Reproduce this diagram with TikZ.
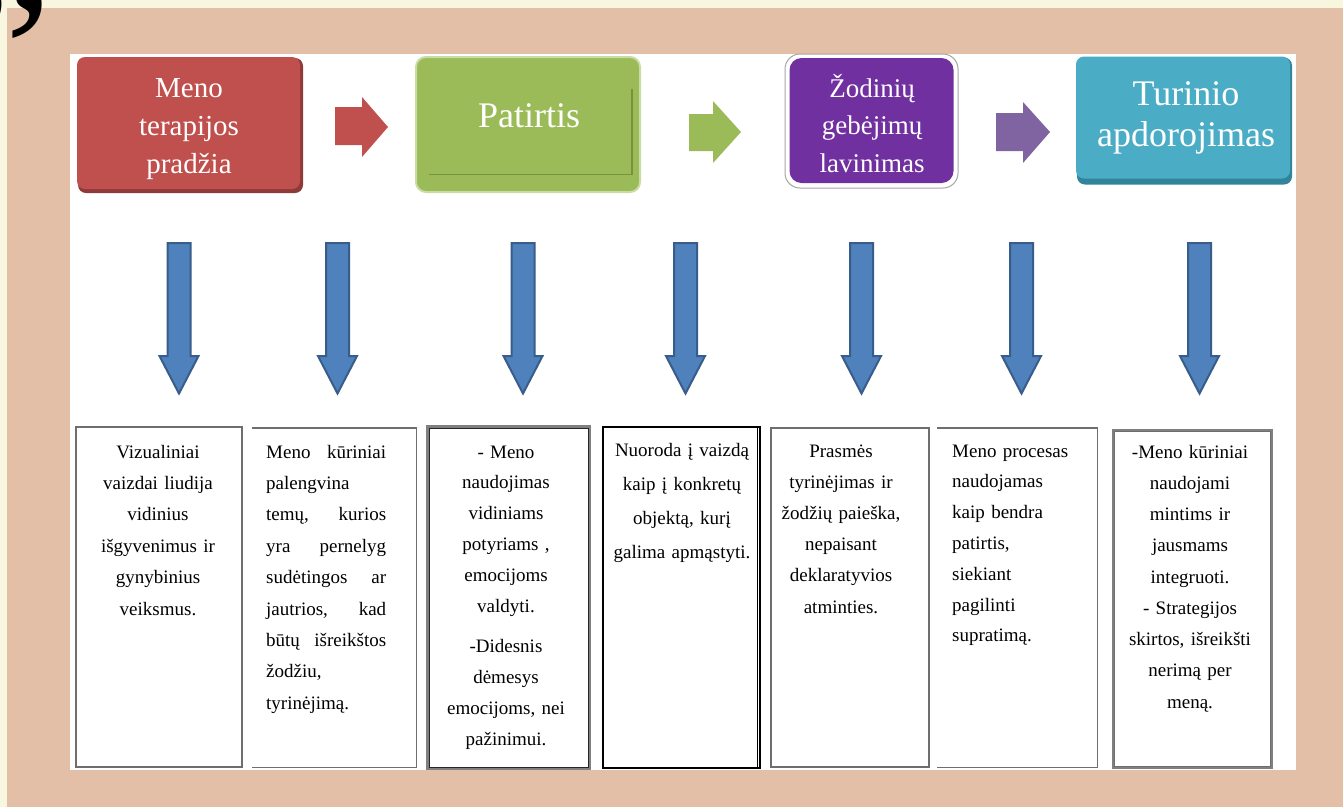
\documentclass[tikz,border=0pt]{standalone}
\usepackage{fontspec}
\setmainfont{Liberation Serif}
\definecolor{cream}{HTML}{F8F6DE}
\definecolor{tanbg}{HTML}{E3BFA7}
\definecolor{redbox}{HTML}{C0504D}
\definecolor{redshadow}{HTML}{8E3A38}
\definecolor{greenbox}{HTML}{9BBB59}
\definecolor{greenline}{HTML}{76923C}
\definecolor{greenglow}{HTML}{C9DCA3}
\definecolor{purplebox}{HTML}{7030A0}
\definecolor{purplearrow}{HTML}{8064A2}
\definecolor{tealbox}{HTML}{4BACC6}
\definecolor{tealshadow}{HTML}{31849B}
\definecolor{bluearrow}{HTML}{4F81BD}
\definecolor{blueedge}{HTML}{385D8A}
\definecolor{boxgray}{HTML}{6E6E6E}
\newcommand\darr[1]{\filldraw[blockdown] ({#1-11.5},243) -- ({#1+11.5},243) -- ({#1+11.5},356) -- ({#1+19.5},356) -- (#1,393.5) -- ({#1-19.5},356) -- ({#1-11.5},356) -- cycle;}
\newcommand\jline[2]{\leavevmode\hbox to 120pt{#1\hfill #2}}
\tikzset{
  blockdown/.style={fill=bluearrow, draw=blueedge, line width=2pt, line join=miter},
  hdrtext/.style={text=white, inner sep=0pt, anchor=base, text width=220pt, align=center},
  bodytext/.style={inner sep=0pt, anchor=base, text width=155pt, align=center, text=black},
  textbox/.style={inner sep=0pt, draw=none},
}
\begin{document}
\begin{tikzpicture}[x=1pt,y=-1pt]
\useasboundingbox (0,0) rectangle (1343,807);
% background
\fill[tanbg] (0,0) rectangle (1343,807);
\fill[cream] (0,0) rectangle (1343,8);
\fill[cream] (0,0) rectangle (7,807);
\node[anchor=base west, inner sep=0pt, font=\fontsize{196}{196}\selectfont, text=black] (quote) at (-36,118) {”};
% white panel
\fill[white] (70,54) rectangle (1296,770);

% header boxes
\node[textbox, fill=redshadow, rounded corners=8pt, minimum width=225pt, minimum height=135pt] (redsh) at (190.5,125.5) {};
\node[textbox, fill=redbox, rounded corners=8pt, minimum width=223pt, minimum height=132pt] (red) at (188.5,123) {};
\node[hdrtext, font=\fontsize{29}{38}\selectfont] (redt) at (189,97) {Meno\\terapijos\\pradžia};

\node[textbox, fill=greenbox, draw=greenglow, line width=2pt, rounded corners=10pt, minimum width=224pt, minimum height=135pt] (green) at (528,124.5) {};
\draw[greenline, line width=1.3pt] ([shift={(14,-18.5)}]green.south west) -- ([shift={(-9,-18.5)}]green.south east) -- ([shift={(-9,33)}]green.north east);
\node[hdrtext, font=\fontsize{36}{40}\selectfont] (greent) at (529,127) {Patirtis};

\node[textbox, fill=white, draw=black!35, line width=1pt, rounded corners=15pt, minimum width=173pt, minimum height=134pt] (purpo) at (871.5,121) {};
\node[textbox, fill=purplebox, rounded corners=12pt, minimum width=164pt, minimum height=125pt] (purple) at (871.5,120.5) {};
\node[hdrtext, font=\fontsize{27}{37.5}\selectfont] (purplet) at (872,97) {Žodinių\\gebėjimų\\lavinimas};

\node[textbox, fill=tealshadow, rounded corners=8pt, minimum width=215pt, minimum height=127pt] (tealsh) at (1184.5,121) {};
\node[textbox, fill=tealbox, rounded corners=8pt, minimum width=214pt, minimum height=122pt] (teal) at (1183,117.5) {};
\node[hdrtext, font=\fontsize{36}{41}\selectfont] (tealt) at (1186,105) {Turinio\\apdorojimas};

% horizontal block arrows
\fill[redbox] (335,107) -- (362,107) -- (362,97) -- (388,127) -- (362,157) -- (362,145) -- (335,145) -- cycle;
\fill[greenbox] (689,114) -- (713,114) -- (713,101) -- (741,132) -- (713,163) -- (713,151) -- (689,151) -- cycle;
\fill[purplearrow] (996,113) -- (1023,113) -- (1023,102) -- (1050,132) -- (1023,163) -- (1023,151) -- (996,151) -- cycle;

% down arrows
\darr{179}
\darr{337.5}
\darr{523}
\darr{685.5}
\darr{861.5}
\darr{1021.5}
\darr{1199.5}

% text boxes
\node[textbox, draw=boxgray, line width=1.4pt, minimum width=166pt, minimum height=340pt] (b1) at (159,597) {};
\node[textbox, minimum width=164pt, minimum height=339pt] (b2) at (334,597.5) {};
\draw[boxgray, line width=1.4pt] (b2.north west) -- (b2.north east) -- (b2.south east) -- (b2.south west);
\node[textbox, draw=gray, line width=3pt, minimum width=162pt, minimum height=342pt] (b3) at (508.5,597.5) {};
\draw[black!85, line width=0.8pt] ([shift={(3,3)}]b3.north west) rectangle ([shift={(-3,-3)}]b3.south east);
\node[textbox, draw=black, line width=1.3pt, minimum width=157pt, minimum height=341pt] (b4) at (681.5,597.5) {};
\draw[black, line width=0.8pt] ([xshift=-3pt]b4.north east) -- ([xshift=-3pt]b4.south east);
\node[textbox, draw=boxgray, line width=1.4pt, minimum width=158pt, minimum height=339pt] (b5) at (850,597.5) {};
\node[textbox, minimum width=160pt, minimum height=339pt] (b6) at (1017,597.5) {};
\draw[boxgray, line width=1.4pt] (b6.north west) -- (b6.north east) -- (b6.south east) -- (b6.south west);
\node[textbox, draw=gray, line width=2.6pt, minimum width=159pt, minimum height=338pt] (b7) at (1192.5,599) {};
\draw[boxgray, line width=0.8pt] ([shift={(2.5,2.5)}]b7.north west) rectangle ([shift={(-2.5,-2.5)}]b7.south east);

% texts in boxes
\node[bodytext, font=\fontsize{19}{31.4}\selectfont] (t1) at (158,458) {Vizualiniai\\vaizdai liudija\\vidinius\\išgyvenimus ir\\gynybinius\\veiksmus.};
\node[bodytext, anchor=base west, text width=120pt, align=left, font=\fontsize{19}{31.4}\selectfont] (t2) at (266,458) {\jline{Meno}{kūriniai}\\palengvina\\\jline{temų,}{kurios}\\\jline{yra}{pernelyg}\\\jline{sudėtingos}{ar}\\\jline{jautrios,}{kad}\\\jline{būtų}{išreikštos}\\žodžiu,\\tyrinėjimą.};
\node[bodytext, font=\fontsize{19}{30.8}\selectfont] (t3) at (506,458) {- Meno\\naudojimas\\vidiniams\\potyriams ,\\emocijoms\\valdyti.\\[10pt]-Didesnis\\dėmesys\\emocijoms, nei\\pažinimui.};
\node[bodytext, font=\fontsize{19}{34}\selectfont] (t4) at (682,456) {Nuoroda į vaizdą\\kaip į konkretų\\objektą, kurį\\galima apmąstyti.};
\node[bodytext, font=\fontsize{19}{31.2}\selectfont] (t5) at (841,457) {Prasmės\\tyrinėjimas ir\\žodžių paieška,\\nepaisant\\deklaratyvios\\atminties.};
\node[bodytext, anchor=base west, text width=140pt, align=left, font=\fontsize{19}{30.8}\selectfont] (t6) at (952,457) {Meno procesas\\naudojamas\\kaip bendra\\patirtis,\\siekiant\\pagilinti\\supratimą.};
\node[bodytext, font=\fontsize{19}{31.25}\selectfont] (t7) at (1190,458) {-Meno kūriniai\\naudojami\\mintims ir\\jausmams\\integruoti.\\- Strategijos\\skirtos, išreikšti\\nerimą per\\meną.};
\end{tikzpicture}
\end{document}
